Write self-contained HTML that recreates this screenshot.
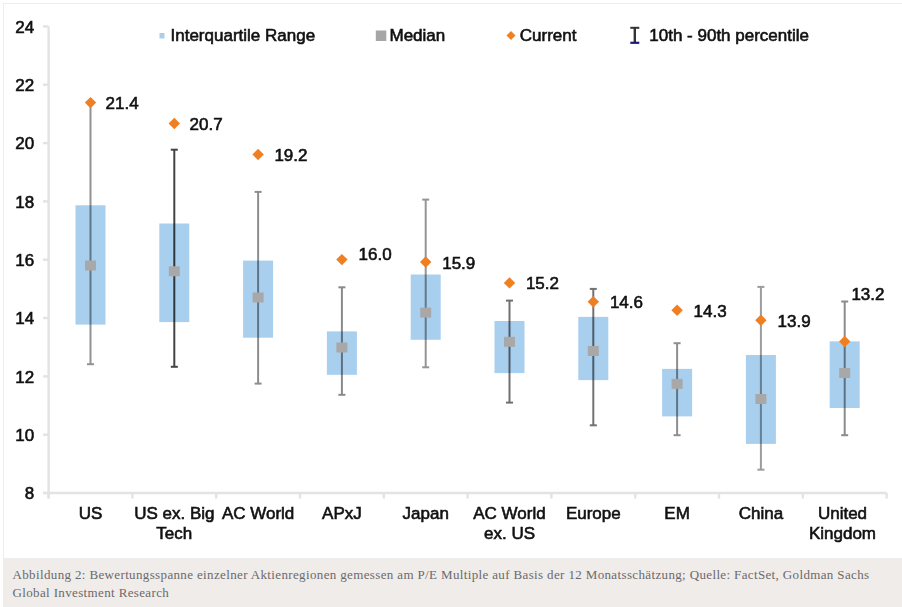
<!DOCTYPE html>
<html><head><meta charset="utf-8"><style>
html,body{margin:0;padding:0;background:#fff;}
body{width:902px;height:607px;overflow:hidden;position:relative;}
.fig{position:absolute;left:3px;top:3px;width:1000px;height:700px;border-top:1px solid #f0ecea;border-left:1px solid #f0ecea;box-sizing:border-box;}
svg{position:absolute;left:0;top:0;filter:blur(0.35px);}
.t{font-family:"Liberation Sans",sans-serif;font-size:17px;fill:#111;stroke:#111;stroke-width:0.6px;}
.cap{position:absolute;left:3px;top:558px;width:1000px;height:60px;background:#f0ecea;}
.cap p{margin:0;position:absolute;left:9.5px;top:8px;width:880px;font-family:"Liberation Serif",serif;font-size:13px;letter-spacing:0.36px;line-height:18px;color:#6a6a6a;white-space:nowrap;}
</style></head><body>
<div class="fig"></div>
<svg width="902" height="558" viewBox="0 0 902 558">
<line x1="48.6" y1="26.4" x2="48.6" y2="498.5" stroke="#e3e3e3" stroke-width="2.4"/>
<line x1="43" y1="493.0" x2="48.6" y2="493.0" stroke="#e3e3e3" stroke-width="2.4"/>
<text x="34.2" y="499.1" text-anchor="end" class="t">8</text>
<line x1="43" y1="434.7" x2="48.6" y2="434.7" stroke="#e3e3e3" stroke-width="2.4"/>
<text x="34.2" y="440.8" text-anchor="end" class="t">10</text>
<line x1="43" y1="376.4" x2="48.6" y2="376.4" stroke="#e3e3e3" stroke-width="2.4"/>
<text x="34.2" y="382.5" text-anchor="end" class="t">12</text>
<line x1="43" y1="318.0" x2="48.6" y2="318.0" stroke="#e3e3e3" stroke-width="2.4"/>
<text x="34.2" y="324.1" text-anchor="end" class="t">14</text>
<line x1="43" y1="259.7" x2="48.6" y2="259.7" stroke="#e3e3e3" stroke-width="2.4"/>
<text x="34.2" y="265.8" text-anchor="end" class="t">16</text>
<line x1="43" y1="201.4" x2="48.6" y2="201.4" stroke="#e3e3e3" stroke-width="2.4"/>
<text x="34.2" y="207.5" text-anchor="end" class="t">18</text>
<line x1="43" y1="143.1" x2="48.6" y2="143.1" stroke="#e3e3e3" stroke-width="2.4"/>
<text x="34.2" y="149.2" text-anchor="end" class="t">20</text>
<line x1="43" y1="84.7" x2="48.6" y2="84.7" stroke="#e3e3e3" stroke-width="2.4"/>
<text x="34.2" y="90.8" text-anchor="end" class="t">22</text>
<line x1="43" y1="26.4" x2="48.6" y2="26.4" stroke="#e3e3e3" stroke-width="2.4"/>
<text x="34.2" y="32.5" text-anchor="end" class="t">24</text>
<line x1="43" y1="493" x2="886.7" y2="493" stroke="#e3e3e3" stroke-width="2.4"/>
<line x1="48.6" y1="493" x2="48.6" y2="498.5" stroke="#e3e3e3" stroke-width="2.4"/>
<line x1="132.4" y1="493" x2="132.4" y2="498.5" stroke="#e3e3e3" stroke-width="2.4"/>
<line x1="216.2" y1="493" x2="216.2" y2="498.5" stroke="#e3e3e3" stroke-width="2.4"/>
<line x1="300.0" y1="493" x2="300.0" y2="498.5" stroke="#e3e3e3" stroke-width="2.4"/>
<line x1="383.8" y1="493" x2="383.8" y2="498.5" stroke="#e3e3e3" stroke-width="2.4"/>
<line x1="467.6" y1="493" x2="467.6" y2="498.5" stroke="#e3e3e3" stroke-width="2.4"/>
<line x1="551.4" y1="493" x2="551.4" y2="498.5" stroke="#e3e3e3" stroke-width="2.4"/>
<line x1="635.2" y1="493" x2="635.2" y2="498.5" stroke="#e3e3e3" stroke-width="2.4"/>
<line x1="719.0" y1="493" x2="719.0" y2="498.5" stroke="#e3e3e3" stroke-width="2.4"/>
<line x1="802.8" y1="493" x2="802.8" y2="498.5" stroke="#e3e3e3" stroke-width="2.4"/>
<line x1="886.6" y1="493" x2="886.6" y2="498.5" stroke="#e3e3e3" stroke-width="2.4"/>
<line x1="90.5" y1="102.6" x2="90.5" y2="364.2" stroke="#929292" stroke-width="2"/>
<line x1="87.0" y1="364.2" x2="94.0" y2="364.2" stroke="#929292" stroke-width="2"/>
<rect x="75.5" y="205.3" width="30" height="119.3" fill="#a9cfee" style="mix-blend-mode:multiply"/>
<rect x="85.0" y="260.5" width="11" height="10" fill="#a8a8a8"/>
<polygon points="90.5,96.9 96.2,102.6 90.5,108.3 84.8,102.6" fill="#f07f22"/>
<text x="105.5" y="108.7" class="t">21.4</text>
<text x="90.5" y="518.7" text-anchor="middle" class="t">US</text>
<line x1="174.3" y1="149.7" x2="174.3" y2="366.8" stroke="#444444" stroke-width="2"/>
<line x1="170.8" y1="149.7" x2="177.8" y2="149.7" stroke="#444444" stroke-width="2"/>
<line x1="170.8" y1="366.8" x2="177.8" y2="366.8" stroke="#444444" stroke-width="2"/>
<rect x="159.3" y="223.5" width="30" height="98.6" fill="#a9cfee" style="mix-blend-mode:multiply"/>
<rect x="168.8" y="266.3" width="11" height="10" fill="#a8a8a8"/>
<polygon points="174.3,117.8 180.0,123.5 174.3,129.2 168.6,123.5" fill="#f07f22"/>
<text x="189.5" y="130.3" class="t">20.7</text>
<text x="174.3" y="518.7" text-anchor="middle" class="t">US ex. Big</text>
<text x="174.3" y="539.1" text-anchor="middle" class="t">Tech</text>
<line x1="258.1" y1="191.9" x2="258.1" y2="383.6" stroke="#8e8e8e" stroke-width="2"/>
<line x1="254.6" y1="191.9" x2="261.6" y2="191.9" stroke="#8e8e8e" stroke-width="2"/>
<line x1="254.6" y1="383.6" x2="261.6" y2="383.6" stroke="#8e8e8e" stroke-width="2"/>
<rect x="243.1" y="260.6" width="30" height="77.1" fill="#a9cfee" style="mix-blend-mode:multiply"/>
<rect x="252.6" y="292.5" width="11" height="10" fill="#a8a8a8"/>
<polygon points="258.1,148.8 263.8,154.5 258.1,160.2 252.4,154.5" fill="#f07f22"/>
<text x="274.4" y="161.2" class="t">19.2</text>
<text x="258.1" y="518.7" text-anchor="middle" class="t">AC World</text>
<line x1="341.9" y1="287.3" x2="341.9" y2="394.8" stroke="#8a8a8a" stroke-width="2"/>
<line x1="338.4" y1="287.3" x2="345.4" y2="287.3" stroke="#8a8a8a" stroke-width="2"/>
<line x1="338.4" y1="394.8" x2="345.4" y2="394.8" stroke="#8a8a8a" stroke-width="2"/>
<rect x="326.9" y="331.4" width="30" height="43.4" fill="#a9cfee" style="mix-blend-mode:multiply"/>
<rect x="336.4" y="342.5" width="11" height="10" fill="#a8a8a8"/>
<polygon points="341.9,253.9 347.6,259.6 341.9,265.3 336.2,259.6" fill="#f07f22"/>
<text x="358.6" y="259.7" class="t">16.0</text>
<text x="341.9" y="518.7" text-anchor="middle" class="t">APxJ</text>
<line x1="425.7" y1="199.6" x2="425.7" y2="367.3" stroke="#959595" stroke-width="2"/>
<line x1="422.2" y1="199.6" x2="429.2" y2="199.6" stroke="#959595" stroke-width="2"/>
<line x1="422.2" y1="367.3" x2="429.2" y2="367.3" stroke="#959595" stroke-width="2"/>
<rect x="410.7" y="274.5" width="30" height="65.3" fill="#a9cfee" style="mix-blend-mode:multiply"/>
<rect x="420.2" y="307.6" width="11" height="10" fill="#a8a8a8"/>
<polygon points="425.7,256.3 431.4,262.0 425.7,267.7 420.0,262.0" fill="#f07f22"/>
<text x="442.2" y="268.8" class="t">15.9</text>
<text x="425.7" y="518.7" text-anchor="middle" class="t">Japan</text>
<line x1="509.5" y1="300.6" x2="509.5" y2="402.6" stroke="#707070" stroke-width="2"/>
<line x1="506.0" y1="300.6" x2="513.0" y2="300.6" stroke="#707070" stroke-width="2"/>
<line x1="506.0" y1="402.6" x2="513.0" y2="402.6" stroke="#707070" stroke-width="2"/>
<rect x="494.5" y="321.0" width="30" height="52.1" fill="#a9cfee" style="mix-blend-mode:multiply"/>
<rect x="504.0" y="336.8" width="11" height="10" fill="#a8a8a8"/>
<polygon points="509.5,277.2 515.2,282.9 509.5,288.6 503.8,282.9" fill="#f07f22"/>
<text x="525.9" y="289.0" class="t">15.2</text>
<text x="509.5" y="518.7" text-anchor="middle" class="t">AC World</text>
<text x="509.5" y="539.1" text-anchor="middle" class="t">ex. US</text>
<line x1="593.3" y1="288.9" x2="593.3" y2="425.3" stroke="#727272" stroke-width="2"/>
<line x1="589.8" y1="288.9" x2="596.8" y2="288.9" stroke="#727272" stroke-width="2"/>
<line x1="589.8" y1="425.3" x2="596.8" y2="425.3" stroke="#727272" stroke-width="2"/>
<rect x="578.3" y="316.9" width="30" height="63.2" fill="#a9cfee" style="mix-blend-mode:multiply"/>
<rect x="587.8" y="346.0" width="11" height="10" fill="#a8a8a8"/>
<polygon points="593.3,296.0 599.0,301.7 593.3,307.4 587.6,301.7" fill="#f07f22"/>
<text x="609.9" y="307.8" class="t">14.6</text>
<text x="593.3" y="518.7" text-anchor="middle" class="t">Europe</text>
<line x1="677.1" y1="343.2" x2="677.1" y2="435.2" stroke="#8f8f8f" stroke-width="2"/>
<line x1="673.6" y1="343.2" x2="680.6" y2="343.2" stroke="#8f8f8f" stroke-width="2"/>
<line x1="673.6" y1="435.2" x2="680.6" y2="435.2" stroke="#8f8f8f" stroke-width="2"/>
<rect x="662.1" y="368.9" width="30" height="47.5" fill="#a9cfee" style="mix-blend-mode:multiply"/>
<rect x="671.6" y="378.9" width="11" height="10" fill="#a8a8a8"/>
<polygon points="677.1,304.6 682.8,310.3 677.1,316.0 671.4,310.3" fill="#f07f22"/>
<text x="693.5" y="317.0" class="t">14.3</text>
<text x="677.1" y="518.7" text-anchor="middle" class="t">EM</text>
<line x1="760.9" y1="286.9" x2="760.9" y2="469.7" stroke="#9c9c9c" stroke-width="2"/>
<line x1="757.4" y1="286.9" x2="764.4" y2="286.9" stroke="#9c9c9c" stroke-width="2"/>
<line x1="757.4" y1="469.7" x2="764.4" y2="469.7" stroke="#9c9c9c" stroke-width="2"/>
<rect x="745.9" y="355.0" width="30" height="88.9" fill="#a9cfee" style="mix-blend-mode:multiply"/>
<rect x="755.4" y="394.0" width="11" height="10" fill="#a8a8a8"/>
<polygon points="760.9,314.6 766.6,320.3 760.9,326.0 755.2,320.3" fill="#f07f22"/>
<text x="777.5" y="326.5" class="t">13.9</text>
<text x="760.9" y="518.7" text-anchor="middle" class="t">China</text>
<line x1="844.7" y1="301.5" x2="844.7" y2="435.2" stroke="#8a8c8a" stroke-width="2"/>
<line x1="841.2" y1="301.5" x2="848.2" y2="301.5" stroke="#8a8c8a" stroke-width="2"/>
<line x1="841.2" y1="435.2" x2="848.2" y2="435.2" stroke="#8a8c8a" stroke-width="2"/>
<rect x="829.7" y="341.4" width="30" height="66.6" fill="#a9cfee" style="mix-blend-mode:multiply"/>
<rect x="839.2" y="368.0" width="11" height="10" fill="#a8a8a8"/>
<polygon points="844.7,335.8 850.4,341.5 844.7,347.2 839.0,341.5" fill="#f07f22"/>
<text x="851.4" y="300.1" class="t">13.2</text>
<text x="842.5" y="518.7" text-anchor="middle" class="t">United</text>
<text x="842.5" y="539.1" text-anchor="middle" class="t">Kingdom</text>
<rect x="159.5" y="33" width="5" height="5.5" fill="#a9cfee"/>
<text x="170.5" y="41.4" class="t">Interquartile Range</text>
<rect x="375.8" y="30.5" width="10.5" height="10.5" fill="#a6a6a6"/>
<text x="389.5" y="41.3" class="t">Median</text>
<polygon points="511,31 515.5,35.5 511,40 506.5,35.5" fill="#f07f22"/>
<text x="519.8" y="41.3" class="t">Current</text>
<line x1="634.8" y1="27.3" x2="634.8" y2="43" stroke="#333" stroke-width="2.4"/>
<line x1="630.3" y1="27.8" x2="639.3" y2="27.8" stroke="#333" stroke-width="2"/>
<line x1="630.3" y1="42.8" x2="639.3" y2="42.8" stroke="#1a1a80" stroke-width="2.2"/>
<text x="649.3" y="41.4" class="t">10th - 90th percentile</text>
</svg>
<div class="cap"><p>Abbildung 2: Bewertungsspanne einzelner Aktienregionen gemessen am P/E Multiple auf Basis der 12 Monatssch&auml;tzung; Quelle: FactSet, Goldman Sachs<br>Global Investment Research</p></div>
</body></html>
